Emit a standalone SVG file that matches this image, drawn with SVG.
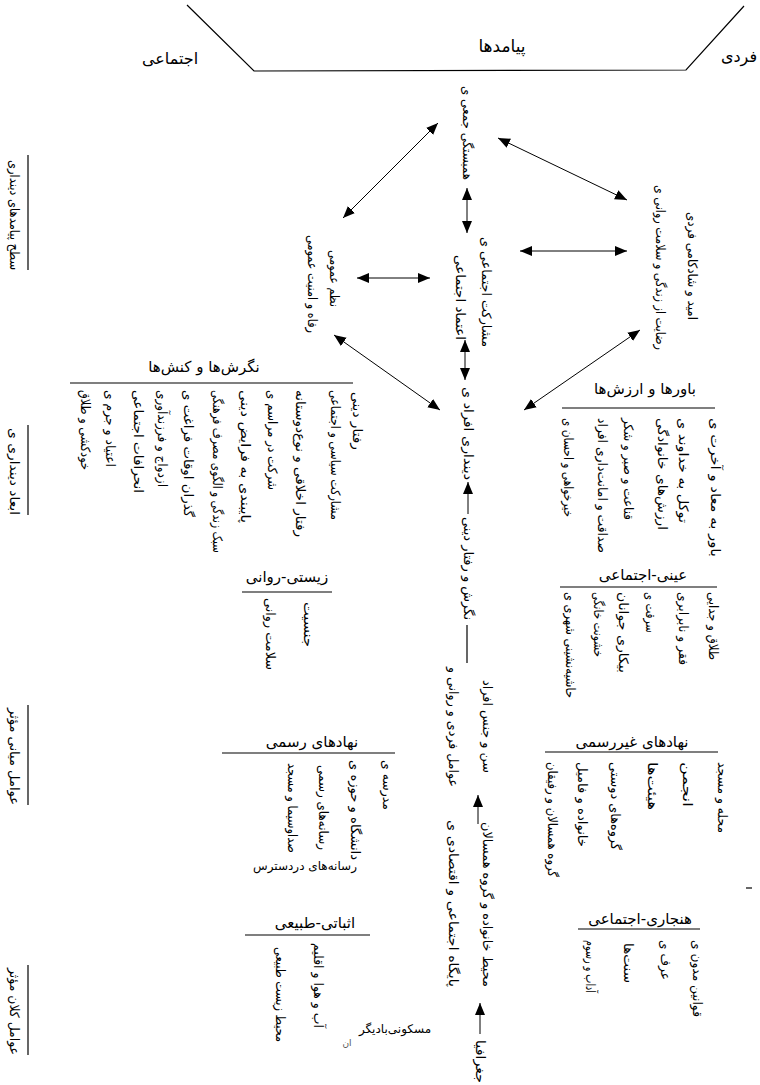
<svg xmlns="http://www.w3.org/2000/svg" width="760" height="1085" viewBox="0 0 760 1085">
<style>
text{font-family:"DejaVu Sans","Noto Sans",sans-serif;fill:#000}
.h{font-size:15px;text-anchor:middle}
.t{font-size:16px;text-anchor:middle}
.s{font-size:12px;text-anchor:middle}
.v{font-size:13px;dominant-baseline:central}
.ln{stroke:#000;stroke-width:1.2;fill:none}
.ar{stroke:#000;stroke-width:1;fill:none;marker-end:url(#ah)}
.ar2{stroke:#000;stroke-width:1;fill:none;marker-start:url(#ah);marker-end:url(#ah)}
</style>
<defs>
<marker id="ah" viewBox="0 0 12 12" refX="12" refY="6" markerWidth="12" markerHeight="12" markerUnits="userSpaceOnUse" orient="auto-start-reverse">
<path d="M0,1 L12,6 L0,11 z" fill="#000"/>
</marker>
</defs>
<rect width="760" height="1085" fill="#fff"/>

<g id="header">
<polyline class="ln" points="187,5 254,71 686,70 744,6"/>
<text class="t" x="502" y="52" style="font-size:17px">پیامدها</text>
<text class="t" x="739" y="62">فردی</text>
<text class="t" x="170" y="64">اجتماعی</text>
</g>

<g id="levels">
<text class="v" transform="translate(14,160) rotate(90)" textLength="110" lengthAdjust="spacingAndGlyphs">سطح پیامدهای دینداری</text>
<line class="ln" x1="28" y1="155" x2="28" y2="270"/>
<text class="v" transform="translate(14,428) rotate(90)" textLength="87" lengthAdjust="spacingAndGlyphs">ابعاد دینداری ی</text>
<line class="ln" x1="28" y1="425" x2="28" y2="515"/>
<text class="v" transform="translate(14,708) rotate(90)" textLength="97" lengthAdjust="spacingAndGlyphs">عوامل میانی مؤثر</text>
<line class="ln" x1="28" y1="705" x2="28" y2="805"/>
<text class="v" transform="translate(14,968) rotate(90)" textLength="87" lengthAdjust="spacingAndGlyphs">عوامل کلان مؤثر</text>
<line class="ln" x1="28" y1="965" x2="28" y2="1055"/>
</g>

<g id="node-top">
<text class="v" transform="translate(467,86) rotate(90)" textLength="94" lengthAdjust="spacingAndGlyphs">همبستگی جمعی ی</text>
</g>
<g id="node-middle">
<text class="v" transform="translate(460,255) rotate(90)" textLength="85" lengthAdjust="spacingAndGlyphs">اعتماد اجتماعی</text>
<text class="v" transform="translate(486,237) rotate(90)" textLength="110" lengthAdjust="spacingAndGlyphs">مشارکت اجتماعی ی</text>
</g>
<g id="node-left">
<text class="v" transform="translate(312,235) rotate(90)" textLength="98" lengthAdjust="spacingAndGlyphs">رفاه و امنیت عمومی</text>
<text class="v" transform="translate(334,250) rotate(90)" textLength="57" lengthAdjust="spacingAndGlyphs">نظم عمومی</text>
</g>
<g id="node-right">
<text class="v" transform="translate(660,185) rotate(90)" textLength="165" lengthAdjust="spacingAndGlyphs">رضایت از زندگی و سلامت روانی ی</text>
<text class="v" transform="translate(692,212) rotate(90)" textLength="108" lengthAdjust="spacingAndGlyphs">امید و شادکامی فردی</text>
</g>
<g id="node-religiosity">
<text class="v" transform="translate(468,387) rotate(90)" textLength="93" lengthAdjust="spacingAndGlyphs">دینداری افراد ی</text>
<text class="v" transform="translate(468,517) rotate(90)" textLength="103" lengthAdjust="spacingAndGlyphs">نگرش و رفتار دینی</text>
</g>
<g id="node-factors-1">
<text class="v" transform="translate(453,667) rotate(90)" textLength="120" lengthAdjust="spacingAndGlyphs">عوامل فردی و روانی و</text>
<text class="v" transform="translate(487,680) rotate(90)" textLength="93" lengthAdjust="spacingAndGlyphs">سن و جنس افراد</text>
</g>
<g id="node-factors-2">
<text class="v" transform="translate(453,820) rotate(90)" textLength="167" lengthAdjust="spacingAndGlyphs">پایگاه اجتماعی و اقتصادی ی</text>
<text class="v" transform="translate(487,822) rotate(90)" textLength="165" lengthAdjust="spacingAndGlyphs">محیط خانواده و گروه همسالان</text>
</g>
<g id="node-nature">
<text class="v" transform="translate(480,1040) rotate(90)" textLength="43" lengthAdjust="spacingAndGlyphs">جغرافیا</text>
</g>

<g id="box-attitudes">
<text class="h" x="204" y="372">نگرش‌ها و کنش‌ها</text>
<line class="ln" x1="70" y1="383" x2="353" y2="383"/>
<text class="v" transform="translate(357,392) rotate(90)" textLength="58" lengthAdjust="spacingAndGlyphs">رفتار دینی</text>
<text class="v" transform="translate(335,390) rotate(90)" textLength="130" lengthAdjust="spacingAndGlyphs">مشارکت سیاسی و اجتماعی</text>
<text class="v" transform="translate(300,390) rotate(90)" textLength="147" lengthAdjust="spacingAndGlyphs">رفتار اخلاقی و نوع‌دوستانه</text>
<text class="v" transform="translate(272,390) rotate(90)" textLength="100" lengthAdjust="spacingAndGlyphs">شرکت در مراسم ی</text>
<text class="v" transform="translate(245,390) rotate(90)" textLength="133" lengthAdjust="spacingAndGlyphs">پایبندی به فرایض دینی</text>
<text class="v" transform="translate(217,390) rotate(90)" textLength="163" lengthAdjust="spacingAndGlyphs">سبک زندگی و الگوی مصرف فرهنگی</text>
<text class="v" transform="translate(188,390) rotate(90)" textLength="127" lengthAdjust="spacingAndGlyphs">گذران اوقات فراغت ی</text>
<text class="v" transform="translate(162,390) rotate(90)" textLength="97" lengthAdjust="spacingAndGlyphs">ازدواج و فرزندآوری</text>
<text class="v" transform="translate(138,390) rotate(90)" textLength="103" lengthAdjust="spacingAndGlyphs">انحرافات اجتماعی</text>
<text class="v" transform="translate(110,390) rotate(90)" textLength="77" lengthAdjust="spacingAndGlyphs">اعتیاد و جرم ی</text>
<text class="v" transform="translate(85,390) rotate(90)" textLength="80" lengthAdjust="spacingAndGlyphs">خودکشی و طلاق</text>
</g>

<g id="box-beliefs">
<text class="h" x="645" y="394">باورها و ارزش‌ها</text>
<line class="ln" x1="562" y1="408" x2="715" y2="408"/>
<text class="v" transform="translate(715,418) rotate(90)" textLength="139" lengthAdjust="spacingAndGlyphs">باور به معاد و آخرت ی</text>
<text class="v" transform="translate(683,418) rotate(90)" textLength="105" lengthAdjust="spacingAndGlyphs">توکل به خداوند ی</text>
<text class="v" transform="translate(662,418) rotate(90)" textLength="112" lengthAdjust="spacingAndGlyphs">ارزش‌های خانوادگی</text>
<text class="v" transform="translate(628,418) rotate(90)" textLength="102" lengthAdjust="spacingAndGlyphs">قناعت و صبر و شکر</text>
<text class="v" transform="translate(602,418) rotate(90)" textLength="135" lengthAdjust="spacingAndGlyphs">صداقت و امانت‌داری افراد</text>
<text class="v" transform="translate(568,418) rotate(90)" textLength="99" lengthAdjust="spacingAndGlyphs">خیرخواهی و احسان ی</text>
</g>

<g id="box-objective">
<text class="h" x="643" y="580">عینی-اجتماعی</text>
<line class="ln" x1="560" y1="587" x2="717" y2="587"/>
<text class="v" transform="translate(713,592) rotate(90)" textLength="68" lengthAdjust="spacingAndGlyphs">طلاق و جدایی</text>
<text class="v" transform="translate(683,592) rotate(90)" textLength="73" lengthAdjust="spacingAndGlyphs">فقر و نابرابری</text>
<text class="v" transform="translate(650,592) rotate(90)" textLength="41" lengthAdjust="spacingAndGlyphs">سرقت ی</text>
<text class="v" transform="translate(623,592) rotate(90)" textLength="81" lengthAdjust="spacingAndGlyphs">بیکاری جوانان</text>
<text class="v" transform="translate(598,592) rotate(90)" textLength="65" lengthAdjust="spacingAndGlyphs">خشونت خانگی</text>
<text class="v" transform="translate(570,592) rotate(90)" textLength="106" lengthAdjust="spacingAndGlyphs">حاشیه‌نشینی شهری ی</text>
</g>

<g id="box-biopsych">
<text class="h" x="287" y="582">زیستی-روانی</text>
<line class="ln" x1="242" y1="592" x2="332" y2="592"/>
<text class="v" transform="translate(308,602) rotate(90)" textLength="45" lengthAdjust="spacingAndGlyphs">جنسیت</text>
<text class="v" transform="translate(270,598) rotate(90)" textLength="72" lengthAdjust="spacingAndGlyphs">سلامت روانی</text>
</g>

<g id="box-formal">
<text class="h" x="312" y="747">نهادهای رسمی</text>
<line class="ln" x1="222" y1="753" x2="395" y2="753"/>
<text class="v" transform="translate(387,760) rotate(90)" textLength="50" lengthAdjust="spacingAndGlyphs">مدرسه ی</text>
<text class="v" transform="translate(355,760) rotate(90)" textLength="100" lengthAdjust="spacingAndGlyphs">دانشگاه و حوزه ی</text>
<text class="v" transform="translate(323,765) rotate(90)" textLength="85" lengthAdjust="spacingAndGlyphs">رسانه‌های رسمی</text>
<text class="v" transform="translate(292,763) rotate(90)" textLength="90" lengthAdjust="spacingAndGlyphs">صداوسیما و مسجد</text>
<text class="s" x="305" y="870">رسانه‌های دردسترس</text>
</g>

<g id="box-positive">
<text class="h" x="315" y="928">اثباتی-طبیعی</text>
<line class="ln" x1="245" y1="935" x2="370" y2="935"/>
<text class="v" transform="translate(318,943) rotate(90)" textLength="85" lengthAdjust="spacingAndGlyphs">آب و هوا و اقلیم</text>
<text class="v" transform="translate(280,947) rotate(90)" textLength="95" lengthAdjust="spacingAndGlyphs">محیط زیست طبیعی</text>
<text class="s" x="395" y="1033">مسکونی‌بادیگر</text>
<text class="s" x="347" y="1046" style="font-size:9px;fill:#555">ان</text>
</g>

<g id="box-informal">
<text class="h" x="632" y="747">نهادهای غیررسمی</text>
<line class="ln" x1="545" y1="752" x2="718" y2="752"/>
<text class="v" transform="translate(722,762) rotate(90)" textLength="71" lengthAdjust="spacingAndGlyphs">محله و مسجد</text>
<text class="v" transform="translate(687,762) rotate(90)" textLength="45" lengthAdjust="spacingAndGlyphs">انجمن</text>
<text class="v" transform="translate(652,762) rotate(90)" textLength="48" lengthAdjust="spacingAndGlyphs">هیئت‌ها</text>
<text class="v" transform="translate(615,762) rotate(90)" textLength="88" lengthAdjust="spacingAndGlyphs">گروه‌های دوستی</text>
<text class="v" transform="translate(582,762) rotate(90)" textLength="85" lengthAdjust="spacingAndGlyphs">خانواده و فامیل</text>
<text class="v" transform="translate(552,762) rotate(90)" textLength="115" lengthAdjust="spacingAndGlyphs">گروه همسالان و رفیقان</text>
<line class="ln" x1="746" y1="888" x2="752" y2="888"/>
</g>

<g id="box-normative">
<text class="h" x="640" y="924">هنجاری-اجتماعی</text>
<line class="ln" x1="578" y1="929" x2="700" y2="929"/>
<text class="v" transform="translate(697,940) rotate(90)" textLength="77" lengthAdjust="spacingAndGlyphs">قوانین مدون ی</text>
<text class="v" transform="translate(665,940) rotate(90)" textLength="40" lengthAdjust="spacingAndGlyphs">عرف ی</text>
<text class="v" transform="translate(628,943) rotate(90)" textLength="40" lengthAdjust="spacingAndGlyphs">سنت‌ها</text>
<text class="v" transform="translate(590,940) rotate(90)" textLength="53" lengthAdjust="spacingAndGlyphs">آداب و رسوم</text>
</g>

<g id="connectors">
<line class="ar2" x1="438" y1="123" x2="343" y2="218"/>
<line class="ar2" x1="498" y1="138" x2="627" y2="200"/>
<line class="ar2" x1="467" y1="188" x2="467" y2="233"/>
<line class="ar2" x1="357" y1="278" x2="430" y2="278"/>
<line class="ar2" x1="520" y1="251" x2="627" y2="251"/>
<line class="ar2" x1="465" y1="340" x2="465" y2="380"/>
<line class="ar2" x1="334" y1="335" x2="440" y2="410"/>
<line class="ar2" x1="640" y1="330" x2="524" y2="410"/>
<line class="ar" x1="468" y1="514" x2="468" y2="482"/>
<line class="ln" x1="467" y1="625" x2="467" y2="663"/>
<line class="ar" x1="478" y1="824" x2="478" y2="795"/>
<line class="ar" x1="480" y1="1034" x2="480" y2="1003"/>
</g>
</svg>
